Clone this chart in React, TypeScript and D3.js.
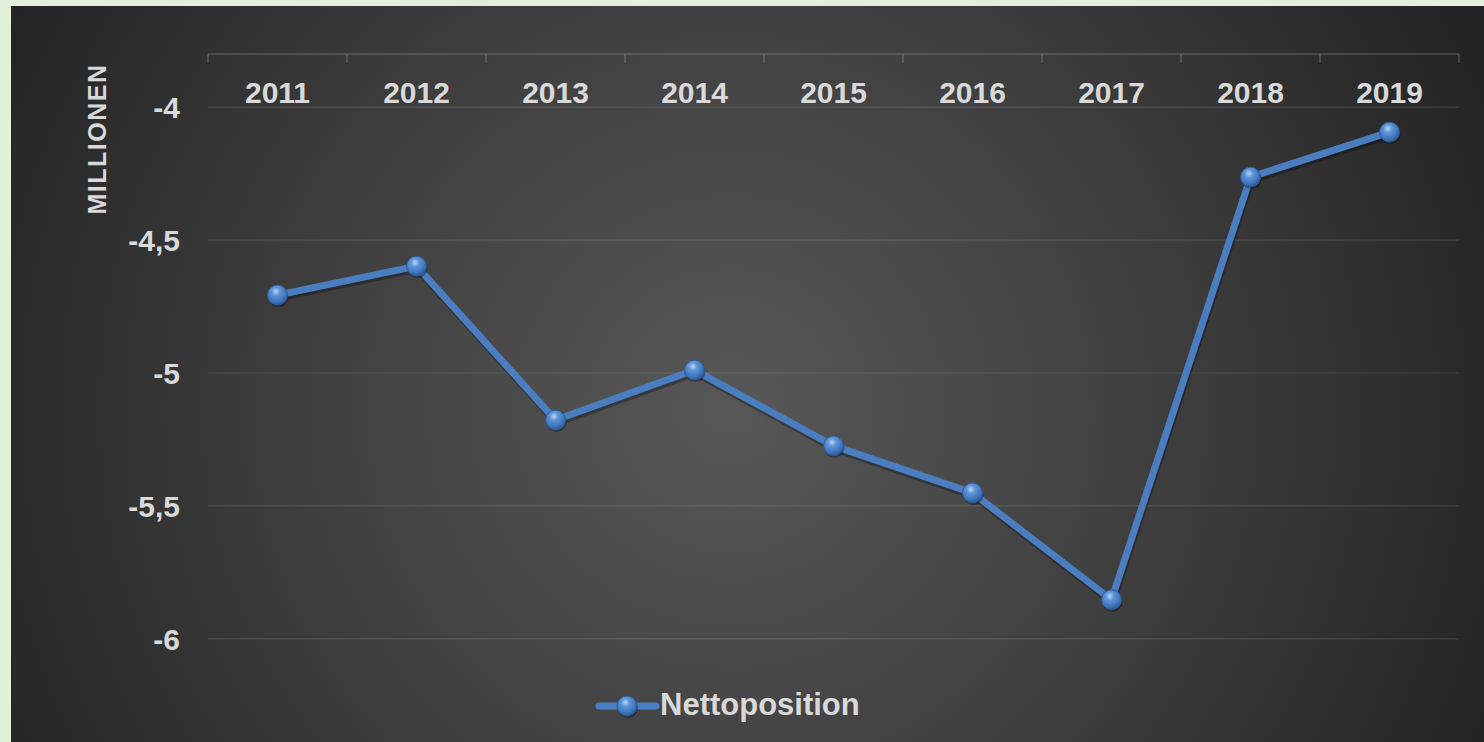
import * as d3 from "d3";

const years = ["2011", "2012", "2013", "2014", "2015", "2016", "2017", "2018", "2019"];
const nettoposition = [-4.707, -4.598, -5.177, -4.989, -5.274, -5.451, -5.853, -4.263, -4.094];
const yTicks = [-4, -4.5, -5, -5.5, -6];
const seriesName = "Nettoposition";
const axisTitle = "MILLIONEN";

const W = 1484;
const H = 742;
const FONT = "'Liberation Sans', Arial, sans-serif";
const TEXT = "#d9d9d9";
const LINE = "#4a7ec0";

export default function App() {
  const x = d3.scaleBand<string>().domain(years).range([208, 1459]);
  const y = d3.scaleLinear().domain([-6.2, -3.8]).range([692, 54]);
  const cx = (d: string) => (x(d) ?? 0) + x.bandwidth() / 2;

  const pts = years.map((yr, i) => ({ yr, v: nettoposition[i] }));
  const line = d3
    .line<{ yr: string; v: number }>()
    .x((d) => cx(d.yr))
    .y((d) => y(d.v));

  const fmt = (v: number) => String(v).replace(".", ",");
  const boundaries = [...years.map((d) => x(d) ?? 0), x.range()[1]];

  const marker = (mx: number, my: number, key: string) => (
    <g key={key}>
      <circle cx={mx + 1} cy={my + 2} r={10} fill="rgba(0,0,0,0.35)" />
      <circle cx={mx} cy={my} r={10} fill="url(#sphere)" stroke="#2d5a94" strokeWidth={1} />
    </g>
  );

  return (
    <div style={{ position: "absolute", left: 0, top: 0 }}>
      <svg width={W} height={H} style={{ display: "block" }}>
        <defs>
          <radialGradient id="bg" gradientUnits="userSpaceOnUse" cx={730} cy={410} r={820}>
            <stop offset="0" stopColor="#585858" />
            <stop offset="0.55" stopColor="#3d3d3d" />
            <stop offset="1" stopColor="#242424" />
          </radialGradient>
          <radialGradient id="sphere" cx="0.42" cy="0.32" r="0.7">
            <stop offset="0" stopColor="#b8d4f5" />
            <stop offset="0.3" stopColor="#5f95d8" />
            <stop offset="0.75" stopColor="#3c72b8" />
            <stop offset="1" stopColor="#2a5590" />
          </radialGradient>
        </defs>
        <rect x={0} y={0} width={W} height={H} fill="#e2efd9" />
        <rect x={11} y={6} width={W - 11} height={H - 6} fill="url(#bg)" />

        {/* gridlines */}
        {yTicks.map((t) => (
          <line
            key={t}
            x1={208}
            x2={1459}
            y1={y(t)}
            y2={y(t)}
            stroke="rgba(255,255,255,0.12)"
            strokeWidth={1.2}
          />
        ))}

        {/* category axis at top */}
        <line x1={208} x2={1459} y1={y(-3.8)} y2={y(-3.8)} stroke="rgba(255,255,255,0.18)" strokeWidth={1.5} />
        {boundaries.map((b, i) => (
          <line key={i} x1={b} x2={b} y1={y(-3.8)} y2={y(-3.8) + 9} stroke="rgba(255,255,255,0.18)" strokeWidth={1.5} />
        ))}
        {years.map((d) => (
          <text
            key={d}
            x={cx(d)}
            y={103}
            textAnchor="middle"
            fontFamily={FONT}
            fontWeight="bold"
            fontSize={30}
            fill={TEXT}
          >
            {d}
          </text>
        ))}

        {/* value axis labels */}
        {yTicks.map((t) => (
          <text
            key={t}
            x={180}
            y={y(t) + 11}
            textAnchor="end"
            fontFamily={FONT}
            fontWeight="bold"
            fontSize={30}
            fill={TEXT}
          >
            {fmt(t)}
          </text>
        ))}
        <text
          transform="translate(106,139) rotate(-90)"
          textAnchor="middle"
          fontFamily={FONT}
          fontWeight="bold"
          fontSize={25}
          letterSpacing={1.5}
          fill={TEXT}
        >
          {axisTitle}
        </text>

        {/* series */}
        <path
          d={line(pts) ?? ""}
          fill="none"
          stroke="rgba(0,0,0,0.3)"
          strokeWidth={7}
          strokeLinejoin="round"
          transform="translate(1,3)"
        />
        <path d={line(pts) ?? ""} fill="none" stroke={LINE} strokeWidth={7} strokeLinejoin="round" />
        {pts.map((p) => marker(cx(p.yr), y(p.v), p.yr))}

        {/* legend */}
        <line x1={599} x2={656} y1={706} y2={706} stroke={LINE} strokeWidth={7} strokeLinecap="round" />
        {marker(627, 706, "legend")}
        <text x={660} y={715} fontFamily={FONT} fontWeight="bold" fontSize={31} fill={TEXT}>
          {seriesName}
        </text>
      </svg>
    </div>
  );
}
